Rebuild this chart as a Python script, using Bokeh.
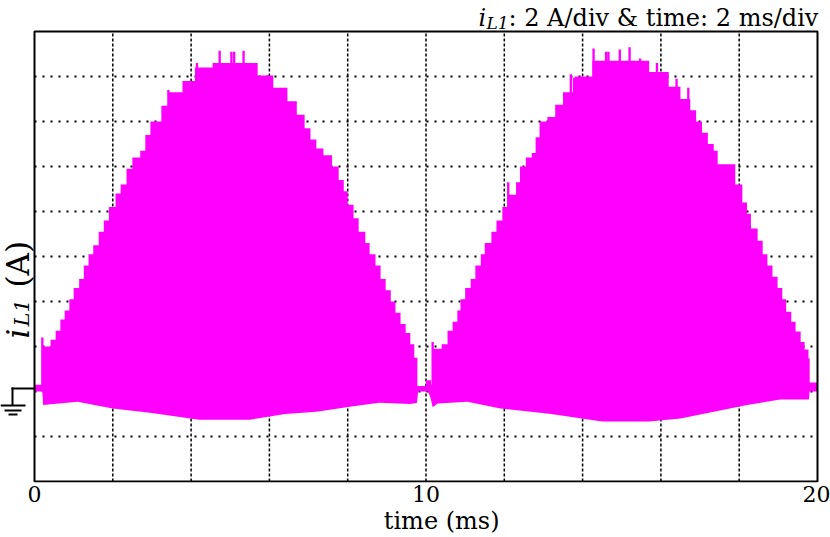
import math
from bokeh.plotting import figure
from bokeh.models import FixedTicker, Label, BoxAnnotation, Range1d, LinearAxis
from bokeh.embed import file_html
from bokeh.resources import INLINE

# ---------------- data ----------------
# upper envelope of i_L1: each level (A) holds from its start time (ms) to the next one
up_t = [0.0, 0.2, 0.41, 0.54, 0.66, 0.77, 0.89, 1.0, 1.14, 1.26, 1.38, 1.5, 1.64, 1.77,
        1.9, 2.07, 2.2, 2.35, 2.5, 2.7, 2.83, 2.96, 3.24, 3.42, 3.78, 4.1, 4.55, 5.7,
        6.1, 6.46, 6.7, 6.9, 7.05, 7.2, 7.38, 7.6, 7.77, 7.9, 8.0, 8.15, 8.28, 8.45,
        8.56, 8.71, 8.84, 8.97, 9.1, 9.22, 9.35, 9.48, 9.6, 9.7, 9.78, 10.0, 10.13,
        10.17, 10.4, 10.55, 10.68, 10.8, 10.88, 11.0, 11.14, 11.26, 11.4, 11.5, 11.67,
        11.8, 11.95, 12.1, 12.3, 12.4, 12.55, 12.7, 12.8, 12.9, 13.1, 13.3, 13.5, 13.8,
        14.25, 15.7, 16.2, 16.5, 16.75, 16.9, 17.05, 17.2, 17.35, 17.45, 17.9, 18.08,
        18.2, 18.3, 18.47, 18.6, 18.72, 18.85, 18.98, 19.1, 19.2, 19.33, 19.44, 19.57,
        19.67, 19.77, 19.8]
up_a = [0.3, 2.0, 2.3, 2.7, 3.2, 3.6, 4.1, 4.6, 5.0, 5.6, 6.1, 6.5, 7.1, 7.6,
        8.2, 8.8, 9.2, 9.9, 10.4, 10.7, 11.4, 12.0, 12.7, 13.3, 13.8, 14.4, 14.6, 14.05,
        13.5, 12.9, 12.3, 11.7, 11.2, 10.8, 10.5, 10.0, 9.4, 8.9, 8.3, 7.7, 7.1, 6.6,
        6.1, 5.6, 5.0, 4.5, 4.0, 3.5, 3.0, 2.6, 2.1, 1.5, 0.25, 0.5, 0.3,
        1.9, 2.1, 2.7, 3.1, 3.6, 4.1, 4.6, 5.0, 5.6, 6.1, 6.6, 7.1,
        7.6, 8.2, 8.75, 9.3, 10.0, 10.4, 10.6, 11.3, 12.0, 12.2, 12.75, 13.3, 14.0,
        14.7, 14.2, 13.55, 13.0, 12.5, 12.0, 11.5, 11.0, 10.7, 10.1, 9.2, 8.4,
        7.9, 7.25, 6.7, 6.1, 5.6, 5.1, 4.6, 4.1, 3.55, 3.1, 2.67, 2.2,
        1.87, 1.47, 0.4]
t_end = 20.0

# lower envelope of i_L1 (A) at times (ms)
lo_t = [0.0, 0.2, 0.22, 1.1, 2.0, 3.0, 4.2, 5.5, 6.4, 7.2, 8.1, 8.8, 9.6, 9.77, 9.8,
        10.05, 10.12, 10.17, 10.3, 11.06, 11.9, 13.2, 14.5, 15.7, 16.5, 18.2, 19.05,
        19.78, 19.8, 20.0]
lo_a = [0.0, 0.0, -0.6, -0.45, -0.75, -0.95, -1.25, -1.25, -1.0, -0.9, -0.67, -0.5,
        -0.55, -0.5, 0.0, 0.0, -0.3, -0.7, -0.53, -0.45, -0.75, -1.0, -1.33, -1.33,
        -1.2, -0.6, -0.36, -0.36, 0.0, 0.0]

# narrow overshoot spikes: time (ms), peak (A)
spike_t = [0.2, 3.42, 4.15, 4.73, 5.03, 5.1, 5.34, 10.17, 12.1, 13.7, 13.78, 14.28,
           14.6, 14.66, 14.95, 15.2, 15.47, 15.9, 16.4, 16.7, 17.82]
spike_a = [2.4, 13.4, 14.6, 15.15, 15.1, 15.1, 15.15, 2.2, 9.3, 14.1, 13.95, 15.25,
           15.1, 15.1, 15.2, 15.3, 14.8, 14.6, 13.9, 13.5, 9.9]

x_ticks = [0, 10, 20]
x_grid = [2, 4, 6, 8, 10, 12, 14, 16, 18]
y_grid = [-2, 0, 2, 4, 6, 8, 10, 12, 14]
x_lim = (0, 20)
y_lim = (-4, 16)

title_i, title_sub, title_rest = "i", "L1", ": 2 A/div & time: 2 ms/div"
ylab_i, ylab_sub, ylab_rest = "i", "L1", "(A)"
x_label = "time (ms)"
x_label_at = 10.4

# ---------------- layout ----------------
MAG = "#ff00ff"
FONT = "DejaVu Serif"
FW, FH = 830, 482          # plot frame covers the whole canvas above the x axis
BOX_L, BOX_R = 34, 13      # px from frame edges to the scope screen box
BOX_T, BOX_B = 31, 1
sx = (FW - BOX_L - BOX_R) / (x_lim[1] - x_lim[0])
sy = (FH - BOX_T - BOX_B) / (y_lim[1] - y_lim[0])
xr = Range1d(x_lim[0] - BOX_L / sx, x_lim[1] + BOX_R / sx)
yr = Range1d(y_lim[0] - BOX_B / sy, y_lim[1] + BOX_T / sy)

p = figure(frame_width=FW, frame_height=FH, x_range=xr, y_range=yr,
           y_axis_location=None, output_backend="svg", toolbar_location=None,
           min_border_left=0, min_border_right=0, min_border_top=0, min_border_bottom=0)
p.background_fill_color = "white"
p.border_fill_color = "white"
p.outline_line_color = None
p.grid.visible = False

# x axis: tick labels 0 / 10 / 20
xa = p.xaxis[0]
xa.ticker = FixedTicker(ticks=x_ticks)
xa.axis_line_color = None
xa.major_tick_line_color = None
xa.minor_tick_line_color = None
xa.major_tick_out = 0
xa.major_tick_in = 0
xa.major_label_text_font = FONT
xa.major_label_text_font_size = "22px"
xa.major_label_text_color = "black"
xa.major_label_standoff = 3

# second row below: the axis title, placed where the reference shows it
xa2 = LinearAxis(ticker=FixedTicker(ticks=[x_label_at]),
                 major_label_overrides={x_label_at: x_label},
                 axis_line_color=None, major_tick_line_color=None,
                 minor_tick_line_color=None, major_tick_out=0, major_tick_in=0,
                 major_label_standoff=2, major_label_text_font=FONT,
                 major_label_text_font_size="24px", major_label_text_color="black")
p.add_layout(xa2, "below")

# ---------------- grid (dotted, drawn under the trace) ----------------
p.segment(x0=x_grid, x1=x_grid, y0=[y_lim[0]] * len(x_grid), y1=[y_lim[1]] * len(x_grid),
          line_color="black", line_width=1.5, line_dash="3 2")
p.segment(x0=[x_lim[0]] * len(y_grid), x1=[x_lim[1]] * len(y_grid), y0=y_grid, y1=y_grid,
          line_color="black", line_width=2, line_dash="2 6")

# ---------------- trace ----------------
up_right = up_t[1:] + [t_end]
px, py = [], []
for t0, t1, a in zip(up_t, up_right, up_a):
    px += [t0, t1]
    py += [a, a]
px += lo_t[::-1]
py += lo_a[::-1]
p.patch(px, py, fill_color=MAG, line_color=None)
p.vbar(x=spike_t, top=spike_a, bottom=0, width=0.06, fill_color=MAG, line_color=None)

# screen box
p.quad(left=[x_lim[0]], right=[x_lim[1]], bottom=[y_lim[0]], top=[y_lim[1]],
       fill_color=None, line_color="black", line_width=2)

# ---------------- texts (screen px relative to the frame's bottom-left) ----------------
def lab(txt, x, y, size, style="normal", angle=0.0):
    p.add_layout(Label(text=txt, x=x, y=y, x_units="screen", y_units="screen",
                       text_font=FONT, text_font_size=size, text_font_style=style,
                       text_color="black", text_baseline="alphabetic",
                       text_align="left", angle=angle))

# title at top right
lab(title_i, 478, 465, "24px", "italic")
lab(title_sub, 486, 460, "17px", "italic")
lab(title_rest, 508, 465, "24px")

# y label, rotated
a90 = math.pi / 2
lab(ylab_i, 17, 144, "31px", "italic", a90)
lab(ylab_sub, 21, 156, "21px", "italic", a90)
lab(ylab_rest, 17, 195, "31px", "normal", a90)

# ground symbol left of the screen box
for (l, r, b, t) in [(11, 34, 93, 95),
                     (11, 13, 77, 95),
                     (0, 25, 76, 78),
                     (4, 21, 71, 73),
                     (8, 17, 67, 69)]:
    p.add_layout(BoxAnnotation(left=l, right=r, bottom=b, top=t,
                               left_units="screen", right_units="screen",
                               bottom_units="screen", top_units="screen",
                               fill_color="black", fill_alpha=1.0,
                               line_color=None, line_alpha=0))

open("out.html", "w").write(file_html(p, INLINE))
